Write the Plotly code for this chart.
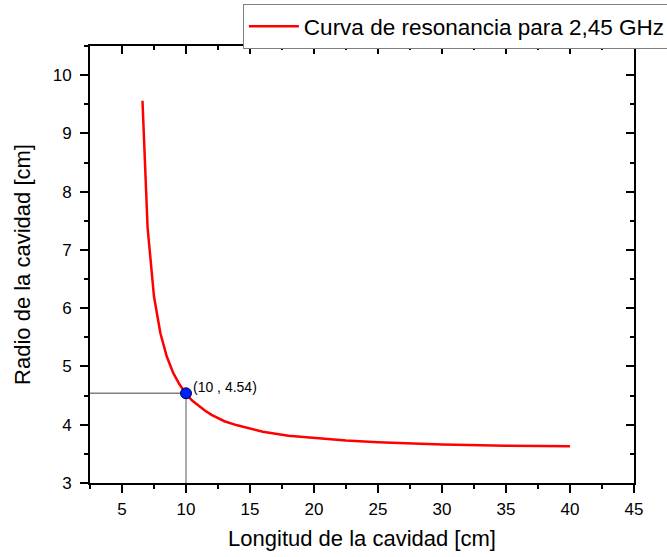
import plotly.graph_objects as go

longitud = [6.6, 7, 7.5, 8, 8.5, 9, 9.5, 10, 10.5, 11, 11.5, 12, 13, 14, 15, 16, 18, 20,
            22.5, 25, 30, 35, 40]
radio = [9.56, 7.38, 6.20, 5.57, 5.17, 4.89, 4.69, 4.53, 4.41, 4.32, 4.24, 4.17, 4.06,
         3.99, 3.93, 3.88, 3.81, 3.77, 3.73, 3.70, 3.66, 3.64, 3.63]
punto_x = [10]
punto_y = [4.54]
punto_label = "(10 , 4.54)"
serie_nombre = "Curva de resonancia para 2,45 GHz"
x_ticks = [5, 10, 15, 20, 25, 30, 35, 40, 45]
y_ticks = [3, 4, 5, 6, 7, 8, 9, 10]
x_range = [2.5, 45]
y_range = [3, 10.5]

FONT = "Arial, Liberation Sans, sans-serif"
fig = go.Figure()

# guide lines to the marked point
fig.add_trace(go.Scatter(x=[x_range[0], punto_x[0], punto_x[0]], y=[punto_y[0], punto_y[0], y_range[0]],
                         mode="lines", line=dict(color="#808080", width=1.3),
                         showlegend=False, hoverinfo="skip"))
fig.add_trace(go.Scatter(x=longitud, y=radio, mode="lines", name=serie_nombre,
                         line=dict(color="#ff0000", width=2.5)))
fig.add_trace(go.Scatter(x=punto_x, y=punto_y, mode="markers", showlegend=False,
                         marker=dict(color="#0022ee", size=11, symbol="circle",
                                     line=dict(color="#000066", width=1))))
# invisible trace to activate mirrored axes
fig.add_trace(go.Scatter(x=[None], y=[None], xaxis="x2", yaxis="y2", showlegend=False))

fig.add_annotation(x=punto_x[0], y=punto_y[0], text=punto_label, showarrow=False,
                   xanchor="left", yanchor="middle", xshift=5, yshift=6,
                   font=dict(family=FONT, size=14, color="black"))

axis_common = dict(showgrid=False, zeroline=False, showline=True, linecolor="black",
                   linewidth=2, tickcolor="black", tickwidth=1.5)
minor_x = dict(dtick=2.5, tick0=0, ticklen=4, tickcolor="black", tickwidth=1.5)
minor_y = dict(dtick=0.5, tick0=0, ticklen=4, tickcolor="black", tickwidth=1.5)

fig.update_layout(
    width=667, height=557,
    margin=dict(l=90, r=33, t=46, b=74, autoexpand=False),
    plot_bgcolor="white", paper_bgcolor="white",
    font=dict(family=FONT, color="black"),
    xaxis=dict(range=x_range, tickvals=x_ticks, ticks="outside", ticklen=8,
               tickfont=dict(size=17, family=FONT), ticklabelstandoff=2,
               minor=dict(ticks="outside", **minor_x),
               title=dict(text="Longitud de la cavidad [cm]", font=dict(size=22, family=FONT), standoff=12),
               **axis_common),
    yaxis=dict(range=y_range, tickvals=y_ticks, ticks="outside", ticklen=8,
               tickfont=dict(size=17, family=FONT), ticklabelstandoff=5,
               minor=dict(ticks="outside", **minor_y),
               title=dict(text="Radio de la cavidad [cm]", font=dict(size=22, family=FONT), standoff=16),
               **axis_common),
    xaxis2=dict(range=x_range, overlaying="x", side="top", tickvals=x_ticks, ticks="inside",
                ticklen=8, showticklabels=False,
                minor=dict(ticks="inside", **minor_x),
                **axis_common),
    yaxis2=dict(range=y_range, overlaying="y", side="right", tickvals=y_ticks, ticks="inside",
                ticklen=8, showticklabels=False,
                minor=dict(ticks="inside", **minor_y),
                **axis_common),
    legend=dict(x=0.281, y=1.096, xanchor="left", yanchor="top", bgcolor="white",
                bordercolor="#808080", borderwidth=1, font=dict(size=22.5, family=FONT),
                itemwidth=50, tracegroupgap=0),
    showlegend=True,
)

fig.write_html("out.html")
